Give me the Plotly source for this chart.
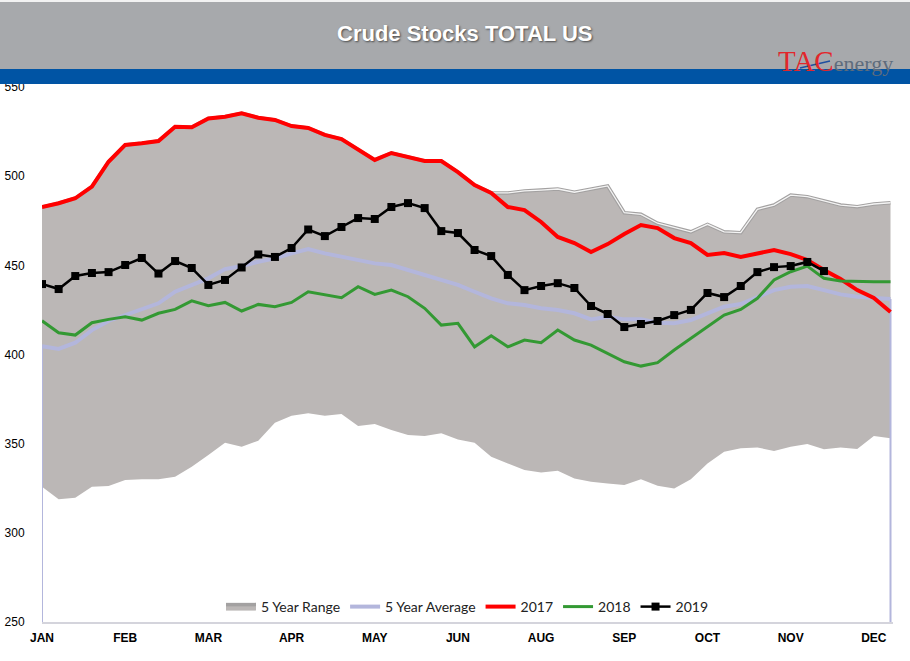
import plotly.graph_objects as go

# ---------------- data ----------------
week_index = list(range(52))
month_ticks = [0, 5, 10, 15, 20, 25, 30, 35, 40, 45, 50]
month_labels = ["JAN", "FEB", "MAR", "APR", "MAY", "JUN", "AUG", "SEP", "OCT", "NOV", "DEC"]

range_upper = [482.7, 484.8, 487.6, 494.1, 508.1, 517.5, 518.4, 519.7, 527.7, 527.4,
               532.4, 533.3, 535.2, 532.8, 531.5, 528.1, 527.0, 523.1, 520.8, 514.7,
               509.1, 513.0, 510.7, 508.5, 508.5, 502.3, 495.0, 490.6, 490.6, 491.7,
               492.2, 492.8, 491.0, 492.8, 494.5, 479.5, 478.6, 473.6, 471.3, 468.8,
               473.0, 468.8, 468.3, 481.4, 483.8, 489.4, 488.5, 486.2, 483.8, 482.9,
               484.4, 485.1]
range_lower = [325.8, 318.8, 319.7, 325.8, 326.2, 329.6, 330.0, 330.0, 331.4, 337.0,
               343.6, 350.5, 348.3, 351.6, 361.7, 365.7, 367.1, 365.7, 366.6, 359.9,
               361.0, 357.6, 354.8, 354.3, 355.8, 352.4, 350.5, 342.6, 338.9, 335.2,
               333.9, 334.8, 330.5, 328.6, 327.7, 326.8, 330.1, 326.4, 324.9, 330.0,
               338.9, 345.5, 347.4, 347.9, 345.9, 348.3, 349.8, 346.8, 347.9, 347.0,
               354.3, 353.0]
avg_5yr = [404.7, 403.1, 406.6, 413.7, 418.8, 422.1, 424.9, 428.7, 435.2, 438.9,
           442.7, 447.9, 449.6, 452.0, 453.9, 456.7, 459.1, 456.7, 454.8, 453.4,
           451.1, 450.2, 447.4, 444.6, 441.8, 439.0, 435.2, 431.5, 428.7, 427.7,
           425.9, 424.9, 423.1, 419.7, 421.2, 419.7, 419.7, 417.8, 417.5, 419.3,
           423.1, 426.8, 428.3, 432.4, 436.1, 438.0, 438.4, 436.1, 433.7, 432.4,
           431.8, 431.1]
y2017 = [482.7, 484.8, 487.6, 494.1, 508.1, 517.5, 518.4, 519.7, 527.7, 527.4,
         532.4, 533.3, 535.2, 532.8, 531.5, 528.1, 527.0, 523.1, 520.8, 514.7,
         509.1, 513.0, 510.7, 508.5, 508.5, 502.3, 495.0, 490.6, 482.7, 481.0,
         474.3, 465.9, 462.5, 457.5, 461.9, 467.6, 472.6, 470.9, 465.3, 462.5,
         455.8, 456.9, 454.7, 456.9, 458.6, 456.3, 453.0, 447.4, 442.3, 436.1,
         431.7, 423.8]
y2018 = [418.9, 412.2, 410.9, 417.8, 419.7, 421.2, 419.3, 423.1, 425.3, 430.1,
         427.3, 429.2, 424.4, 428.1, 426.8, 429.2, 435.2, 433.3, 431.8, 438.0,
         433.7, 436.1, 432.4, 425.9, 416.5, 417.5, 404.3, 410.5, 404.3, 408.1,
         406.6, 413.7, 408.1, 405.3, 400.6, 395.9, 393.5, 395.4, 402.5, 409.1,
         415.6, 422.1, 425.3, 431.5, 441.8, 446.4, 449.6, 442.7, 441.2, 440.8,
         440.8, 440.8]
y2019 = [439.5, 436.7, 444.0, 445.7, 446.2, 450.2, 454.1, 445.4, 452.4, 448.5,
         439.0, 441.8, 448.8, 456.1, 454.7, 459.7, 470.1, 466.4, 471.5, 476.5,
         476.0, 482.7, 484.9, 482.1, 469.2, 468.1, 458.6, 455.2, 444.6, 436.1,
         438.4, 440.0, 437.3, 427.2, 422.7, 415.4, 417.1, 418.8, 422.1, 425.0,
         434.5, 432.2, 438.4, 446.2, 449.0, 449.6, 451.9, 446.8]

y_min, y_max = 250, 550

# ---------------- figure ----------------
fig = go.Figure()

fig.add_trace(go.Scatter(x=week_index, y=range_lower, mode="lines",
                         line=dict(width=0, color="rgba(0,0,0,0)"),
                         showlegend=False, hoverinfo="skip"))
fig.add_trace(go.Scatter(x=week_index, y=range_upper, mode="lines", name="5 Year Range",
                         fill="tonexty", fillcolor="#bbb7b6",
                         line=dict(width=3.5, color="#a3a1a1")))
fig.add_trace(go.Scatter(x=week_index, y=range_upper, mode="lines",
                         line=dict(width=1.3, color="#f4f4f4"),
                         showlegend=False, hoverinfo="skip"))

# thin vertical edges of the average series down to the axis floor
edge_x = [week_index[0], week_index[0], None, week_index[-1], week_index[-1]]
edge_y = [y_min, avg_5yr[0], None, avg_5yr[-1], y_min]
fig.add_trace(go.Scatter(x=edge_x, y=edge_y, mode="lines",
                         line=dict(width=2, color="#b3b6dc"),
                         showlegend=False, hoverinfo="skip"))
fig.add_trace(go.Scatter(x=week_index, y=avg_5yr, mode="lines", name="5 Year Average",
                         line=dict(width=4, color="#b3b6dc")))

fig.add_trace(go.Scatter(x=week_index, y=y2017, mode="lines", name="2017",
                         line=dict(width=4, color="#ff0000")))
fig.add_trace(go.Scatter(x=week_index, y=y2018, mode="lines", name="2018",
                         line=dict(width=3, color="#339933")))
fig.add_trace(go.Scatter(x=week_index[:len(y2019)], y=y2019, mode="lines+markers", name="2019",
                         line=dict(width=2.5, color="#000000"),
                         marker=dict(symbol="square", size=8, color="#000000")))

L, R, T, B = 42, 17, 87, 39
W, H = 910, 661
pw, ph = W - L - R, H - T - B


def px_x(p):
    return (p - L) / pw


def px_y(p):
    return (H - B - p) / ph


shapes = [
    dict(type="rect", xref="paper", yref="paper", x0=px_x(-5), x1=px_x(W + 5), y0=px_y(69), y1=px_y(-5),
         fillcolor="#a7a9ac", line=dict(width=0), layer="above"),
    dict(type="rect", xref="paper", yref="paper", x0=px_x(-5), x1=px_x(W + 5), y0=px_y(84), y1=px_y(69),
         fillcolor="#0054a4", line=dict(width=0), layer="above"),
    dict(type="line", xref="paper", yref="paper", x0=px_x(-5), x1=px_x(W + 5), y0=px_y(1), y1=px_y(1),
         line=dict(width=2, color="#f2f2f2"), layer="above"),
    dict(type="line", xref="paper", yref="paper", x0=px_x(800), x1=px_x(830), y0=px_y(68), y1=px_y(61),
         line=dict(width=1.5, color="#1f4fa0"), layer="above"),
]

annotations = [
    dict(text="<b>Crude Stocks TOTAL US</b>", xref="paper", yref="paper",
         x=px_x(465), y=px_y(34), showarrow=False, xanchor="center", yanchor="middle",
         font=dict(family="Liberation Sans, Arial", size=22, color="#ffffff",
                   shadow="1px 1px 2px #4a4a4a")),
    dict(text="<span style='color:#e2262b'>TAC</span><span style='color:#5e6c7c;font-size:22px'>energy</span>",
         xref="paper", yref="paper", x=px_x(895), y=px_y(61), showarrow=False,
         xanchor="right", yanchor="middle",
         font=dict(family="Liberation Serif, DejaVu Serif, serif", size=29)),
]

fig.update_layout(
    width=W, height=H,
    margin=dict(l=L, r=R, t=T, b=B, pad=0, autoexpand=False),
    paper_bgcolor="#ffffff", plot_bgcolor="#ffffff",
    showlegend=True,
    legend=dict(orientation="h", x=0.5, xanchor="center", y=px_y(607), yanchor="middle",
                traceorder="normal",
                bgcolor="rgba(0,0,0,0)", font=dict(family="Lato, Liberation Sans", size=14, color="#222222"),
                itemwidth=30, tracegroupgap=0),
    shapes=shapes,
    annotations=annotations,
)

fig.update_xaxes(range=[0, 51.15], tickvals=month_ticks,
                 ticktext=["<b>" + m + "</b>" for m in month_labels],
                 showgrid=False, zeroline=False, showline=True, linecolor="#d4d4dc", linewidth=1.5,
                 layer="below traces", ticks="outside", ticklen=4, tickcolor="rgba(0,0,0,0)",
                 tickfont=dict(family="Liberation Sans Narrow, Liberation Sans", size=12, color="#000000"),
                 automargin=False, fixedrange=True)
fig.update_yaxes(range=[y_min, y_max], tickvals=[250, 300, 350, 400, 450, 500, 550],
                 showgrid=False, zeroline=False, showline=False,
                 ticks="outside", ticklen=14, tickcolor="rgba(0,0,0,0)",
                 tickfont=dict(family="Liberation Sans, Arial", size=12, color="#000000"),
                 automargin=False, fixedrange=True)

fig.write_html("out.html", config={"displayModeBar": False},
               post_script="document.body.style.margin='0';document.body.style.padding='0';")
